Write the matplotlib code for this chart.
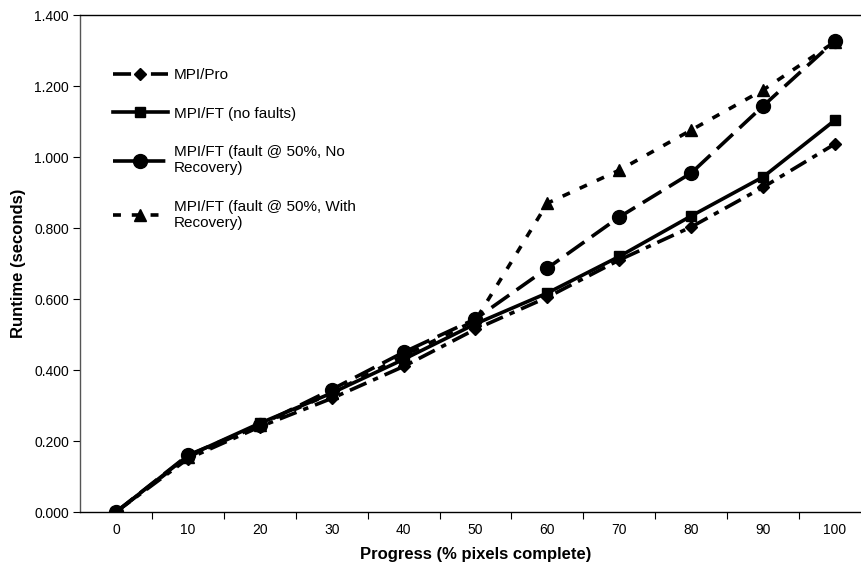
import matplotlib
matplotlib.use("Agg")
import matplotlib.pyplot as plt

plt.rcParams['font.family'] = ['Liberation Sans', 'DejaVu Sans']

# data
progress = ['0', '10', '20', '30', '40', '50', '60', '70', '80', '90', '100']
mpi_pro = [0.000, 0.150, 0.240, 0.320, 0.410, 0.515, 0.605, 0.710, 0.803, 0.915, 1.037]
ft_no_faults = [0.000, 0.158, 0.250, 0.335, 0.430, 0.530, 0.617, 0.720, 0.834, 0.944, 1.104]
ft_no_recovery = [0.000, 0.160, 0.245, 0.345, 0.450, 0.544, 0.687, 0.831, 0.955, 1.144, 1.328]
ft_with_recovery = [0.000, 0.155, 0.245, 0.335, 0.440, 0.540, 0.870, 0.963, 1.076, 1.189, 1.325]

y_ticks = [0.0, 0.2, 0.4, 0.6, 0.8, 1.0, 1.2, 1.4]

fig = plt.figure(figsize=(8.61, 5.66), dpi=100)
ax = fig.add_axes([0.0929, 0.0954, 0.9187, 0.878])

x = list(range(len(progress)))
lw = 2.6

ax.plot(x, mpi_pro, color='black', lw=lw, dashes=(5, 2, 1.5, 2),
        marker='D', ms=6, label='MPI/Pro')
ax.plot(x, ft_no_faults, color='black', lw=lw, linestyle='-',
        marker='s', ms=7.5, label='MPI/FT (no faults)')
ax.plot(x, ft_no_recovery, color='black', lw=lw, dashes=(6, 2.5),
        marker='o', ms=10, label='MPI/FT (fault @ 50%, No\nRecovery)')
ax.plot(x, ft_with_recovery, color='black', lw=lw, dashes=(2.2, 3),
        marker='^', ms=8, label='MPI/FT (fault @ 50%, With\nRecovery)')

ax.set_xlim(-0.5, len(progress) - 0.5)
ax.set_ylim(0, 1.4)
ax.set_xticks(x)
ax.set_xticklabels(progress, fontsize=10)
ax.set_xticks([i + 0.5 for i in x], minor=True)
ax.tick_params(axis='x', which='major', length=0, pad=8)
ax.tick_params(axis='x', which='minor', length=5, direction='out', width=0.8)
ax.set_yticks(y_ticks)
ax.set_yticklabels(['%.3f' % v for v in y_ticks], fontsize=10)
ax.tick_params(axis='y', length=5, direction='out', width=0.8, pad=3)

ax.spines['right'].set_visible(False)
ax.spines['left'].set_color('#555555')
ax.spines['left'].set_linewidth(1.0)
ax.spines['bottom'].set_linewidth(1.0)
ax.spines['top'].set_linewidth(1.0)

ax.set_xlabel('Progress (% pixels complete)', fontsize=12, fontweight='bold', labelpad=7)
ax.set_ylabel('Runtime (seconds)', fontsize=12, fontweight='bold', labelpad=6)

ax.legend(loc='upper left', bbox_to_anchor=(0.034, 0.905), frameon=False,
          fontsize=11, handlelength=3.6, handletextpad=0.4, labelspacing=1.6,
          borderaxespad=0)

fig.savefig('out.png', dpi=100)
